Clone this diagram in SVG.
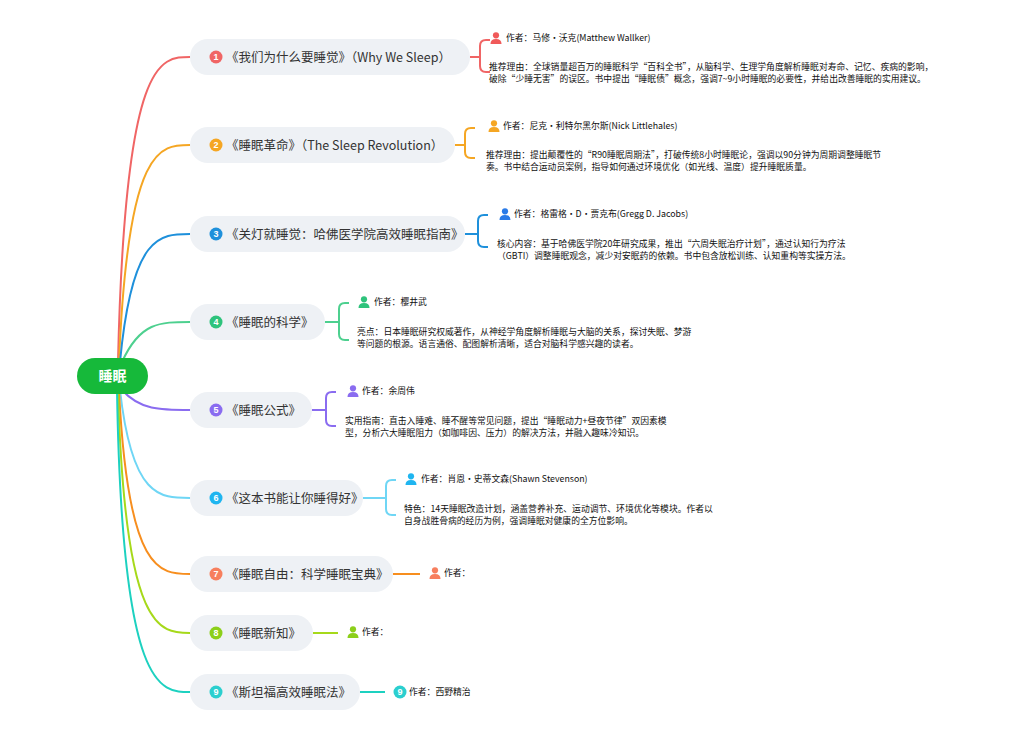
<svg xmlns="http://www.w3.org/2000/svg" width="1028" height="736" viewBox="0 0 1028 736">
<defs>
<style>
.n{fill:#eef1f5}
.t{font-family:"Noto Sans CJK SC","Liberation Sans",sans-serif;font-size:12.5px;fill:#333}
.b{font-family:"Liberation Sans",sans-serif;font-size:9px;font-weight:bold;fill:#fff;text-anchor:middle}
.s{font-family:"Noto Sans CJK SC","Liberation Sans",sans-serif;font-size:8.8px;fill:#111}
.c{fill:none;stroke-width:2}
</style>
<symbol id="u" viewBox="0 0 12 12"><circle cx="6" cy="3.3" r="3.1"/><path d="M0.5 12 Q0.5 7 6 7 Q11.5 7 11.5 12 Z"/></symbol>
</defs>
<rect width="1028" height="736" fill="#fff"/>
<g id="connectors">
<path class="c" stroke="#f06565" d="M118 362 C125 57,160 57,190 57"/>
<path class="c" stroke="#f5a623" d="M119 362 C128 145,160 145,190 145"/>
<path class="c" stroke="#1e90db" d="M120 362 C132 234,160 234,190 234"/>
<path class="c" stroke="#4dd08f" d="M122 362 C140 322,160 322,190 322"/>
<path class="c" stroke="#8a6cf0" d="M122 390 C140 410,160 410,190 410"/>
<path class="c" stroke="#6fd6f5" d="M120 390 C132 498,160 498,190 498"/>
<path class="c" stroke="#f78e1e" d="M119 390 C128 574,160 574,190 574"/>
<path class="c" stroke="#a6d91a" d="M118 390 C125 633,160 633,190 633"/>
<path class="c" stroke="#1dd1c0" d="M117 390 C122 692,160 692,190 692"/>
<path class="c" stroke="#f06565" d="M470 57 H480 M490 40 H486 Q480 40 480 46 V66 Q480 72 486 72 H490"/>
<path class="c" stroke="#f5a623" d="M455 145 H465 M475 128 H471 Q465 128 465 134 V152 Q465 158 471 158 H475"/>
<path class="c" stroke="#1e90db" d="M465 234 H478 M488 215 H484 Q478 215 478 221 V241 Q478 247 484 247 H488"/>
<path class="c" stroke="#4dd08f" d="M325 322 H339 M349 303 H345 Q339 303 339 309 V334 Q339 340 345 340 H349"/>
<path class="c" stroke="#8a6cf0" d="M312 410 H326 M336 392 H332 Q326 392 326 398 V420 Q326 426 332 426 H336"/>
<path class="c" stroke="#6fd6f5" d="M363 498 H386 M396 480 H392 Q386 480 386 486 V509 Q386 515 392 515 H396"/>
<path class="c" stroke="#f78e1e" d="M393 574 H420"/>
<path class="c" stroke="#a6d91a" d="M313 633 H338"/>
<path class="c" stroke="#1dd1c0" d="M360 692 H385"/>
</g>
<g id="root"><rect x="77" y="358" width="71" height="36" rx="18" fill="#16b93a"/><text x="112.5" y="381" text-anchor="middle" font-family="Noto Sans CJK SC,sans-serif" font-size="14" font-weight="bold" fill="#fff">睡眠</text></g>
<g id="n1"><rect class="n" x="190" y="39" width="280" height="36" rx="18"/><circle cx="216" cy="57" r="6.5" fill="#f06565"/><text class="b" x="216" y="60">1</text><text class="t" x="226" y="61.5">《我们为什么要睡觉》（Why We Sleep）</text></g>
<g id="n2"><rect class="n" x="190" y="127" width="265" height="36" rx="18"/><circle cx="216" cy="145" r="6.5" fill="#f5a623"/><text class="b" x="216" y="148">2</text><text class="t" x="226" y="149.5">《睡眠革命》（The Sleep Revolution）</text></g>
<g id="n3"><rect class="n" x="190" y="216" width="275" height="36" rx="18"/><circle cx="216" cy="234" r="6.5" fill="#1e90db"/><text class="b" x="216" y="237">3</text><text class="t" x="226" y="238.5">《关灯就睡觉：哈佛医学院高效睡眠指南》</text></g>
<g id="n4"><rect class="n" x="190" y="304" width="135" height="36" rx="18"/><circle cx="216" cy="322" r="6.5" fill="#2ec37c"/><text class="b" x="216" y="325">4</text><text class="t" x="226" y="326.5">《睡眠的科学》</text></g>
<g id="n5"><rect class="n" x="190" y="392" width="122" height="36" rx="18"/><circle cx="216" cy="410" r="6.5" fill="#8a6cf0"/><text class="b" x="216" y="413">5</text><text class="t" x="226" y="414.5">《睡眠公式》</text></g>
<g id="n6"><rect class="n" x="190" y="480" width="173" height="36" rx="18"/><circle cx="216" cy="498" r="6.5" fill="#1fb5f0"/><text class="b" x="216" y="501">6</text><text class="t" x="226" y="502.5">《这本书能让你睡得好》</text></g>
<g id="n7"><rect class="n" x="190" y="556" width="203" height="36" rx="18"/><circle cx="216" cy="574" r="6.5" fill="#f77f5e"/><text class="b" x="216" y="577">7</text><text class="t" x="226" y="578.5">《睡眠自由：科学睡眠宝典》</text></g>
<g id="n8"><rect class="n" x="190" y="615" width="123" height="36" rx="18"/><circle cx="216" cy="633" r="6.5" fill="#8ccf1a"/><text class="b" x="216" y="636">8</text><text class="t" x="226" y="637.5">《睡眠新知》</text></g>
<g id="n9"><rect class="n" x="190" y="674" width="170" height="36" rx="18"/><circle cx="216" cy="692" r="6.5" fill="#2bcfcf"/><text class="b" x="216" y="695">9</text><text class="t" x="226" y="696.5">《斯坦福高效睡眠法》</text></g>
<g id="d1"><use href="#u" x="490" y="32" width="12" height="12" fill="#f05a5a"/><text class="s" x="506" y="41">作者：马修•沃克(Matthew Wallker)</text>
<text class="s" x="489" y="70">推荐理由：全球销量超百万的睡眠科学“百科全书”，从脑科学、生理学角度解析睡眠对寿命、记忆、疾病的影响，</text><text class="s" x="489" y="82">破除“少睡无害”的误区。书中提出“睡眠债”概念，强调7~9小时睡眠的必要性，并给出改善睡眠的实用建议。</text></g>
<g id="d2"><use href="#u" x="488" y="120" width="12" height="12" fill="#f5a623"/><text class="s" x="503" y="129">作者：尼克•利特尔黑尔斯(Nick Littlehales)</text>
<text class="s" x="486" y="158">推荐理由：提出颠覆性的“R90睡眠周期法”，打破传统8小时睡眠论，强调以90分钟为周期调整睡眠节</text><text class="s" x="486" y="170">奏。书中结合运动员案例，指导如何通过环境优化（如光线、温度）提升睡眠质量。</text></g>
<g id="d3"><use href="#u" x="499" y="208" width="12" height="12" fill="#2a7be8"/><text class="s" x="514" y="217">作者：格雷格•D•贾克布(Gregg D. Jacobs)</text>
<text class="s" x="497" y="247">核心内容：基于哈佛医学院20年研究成果，推出“六周失眠治疗计划”，通过认知行为疗法</text><text class="s" x="497" y="259">（GBTI）调整睡眠观念，减少对安眠药的依赖。书中包含放松训练、认知重构等实操方法。</text></g>
<g id="d4"><use href="#u" x="358" y="296" width="12" height="12" fill="#2ec37c"/><text class="s" x="374" y="305">作者：樱井武</text>
<text class="s" x="357" y="335">亮点：日本睡眠研究权威著作，从神经学角度解析睡眠与大脑的关系，探讨失眠、梦游</text><text class="s" x="357" y="347">等问题的根源。语言通俗、配图解析清晰，适合对脑科学感兴趣的读者。</text></g>
<g id="d5"><use href="#u" x="347" y="385" width="12" height="12" fill="#8a6cf0"/><text class="s" x="362" y="394">作者：余周伟</text>
<text class="s" x="345" y="424">实用指南：直击入睡难、睡不醒等常见问题，提出“睡眠动力+昼夜节律”双因素模</text><text class="s" x="345" y="436">型，分析六大睡眠阻力（如咖啡因、压力）的解决方法，并融入趣味冷知识。</text></g>
<g id="d6"><use href="#u" x="405" y="473" width="12" height="12" fill="#1fb5f0"/><text class="s" x="421" y="482">作者：肖恩•史蒂文森(Shawn Stevenson)</text>
<text class="s" x="404" y="512">特色：14天睡眠改造计划，涵盖营养补充、运动调节、环境优化等模块。作者以</text><text class="s" x="404" y="524">自身战胜骨病的经历为例，强调睡眠对健康的全方位影响。</text></g>
<g id="d7"><use href="#u" x="429" y="567" width="12" height="12" fill="#f77f5e"/><text class="s" x="444" y="576">作者：</text></g>
<g id="d8"><use href="#u" x="347" y="626" width="12" height="12" fill="#8ccf1a"/><text class="s" x="362" y="635">作者：</text></g>
<g id="d9"><circle cx="400" cy="692" r="6.5" fill="#2bcfcf"/><text class="b" x="400" y="695">9</text><text class="s" x="409" y="695">作者：西野精治</text></g>
</svg>
